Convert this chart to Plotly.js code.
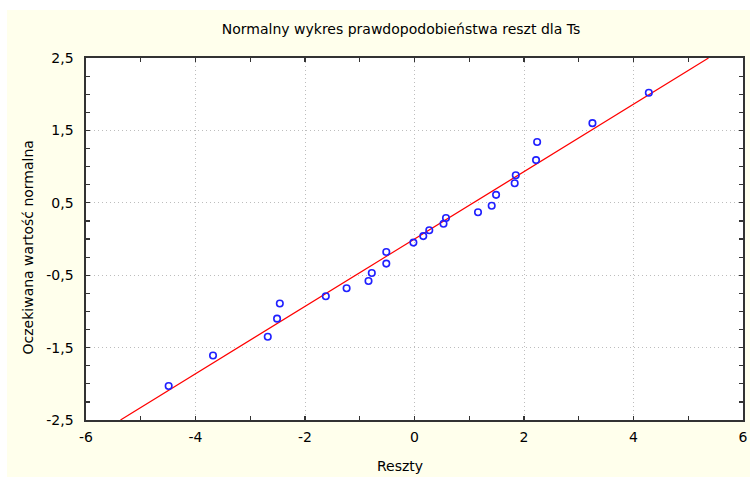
<!DOCTYPE html>
<html>
<head>
<meta charset="utf-8">
<script src="https://cdn.plot.ly/plotly-3.0.1.min.js"></script>
<style>
  html, body { margin: 0; padding: 0; background: #ffffff; width: 755px; height: 478px; overflow: hidden; }
  #chart { position: absolute; left: 7px; top: 10px; width: 743px; height: 467px; }
</style>
</head>
<body>
<div id="chart"></div>
<script>
// Residuals (x) vs expected normal values (y)
const residuals = [-4.49, -3.68, -2.68, -2.51, -2.46, -1.62, -1.24, -0.84, -0.78, -0.515, -0.515, -0.02, 0.16, 0.27, 0.53, 0.575, 1.16, 1.41, 1.49, 1.83, 1.85, 2.22, 2.24, 3.25, 4.28];
const expectedNormal = [-2.03, -1.61, -1.35, -1.10, -0.89, -0.79, -0.68, -0.58, -0.47, -0.34, -0.18, -0.05, 0.04, 0.12, 0.21, 0.29, 0.37, 0.46, 0.61, 0.77, 0.88, 1.09, 1.34, 1.60, 2.02];

// Reference line
const lineX = [-5.37, 5.37];
const lineY = [-2.5, 2.5];

// Tick labels
const xTickVals = [-6, -4, -2, 0, 2, 4, 6];
const xTickText = ['-6', '-4', '-2', '0', '2', '4', '6'];
const yTickVals = [-2.5, -1.5, -0.5, 0.5, 1.5, 2.5];
const yTickText = ['-2,5', '-1,5', '-0,5', '0,5', '1,5', '2,5'];

const titleText = 'Normalny wykres prawdopodobieństwa reszt dla Ts';
const xTitle = 'Reszty';
const yTitle = 'Oczekiwana wartość normalna';

const FONT = '"DejaVu Sans", Arial, sans-serif';

const traces = [
  {
    x: lineX, y: lineY, type: 'scatter', mode: 'lines',
    line: { color: '#ff0000', width: 1.2 }, hoverinfo: 'skip'
  },
  {
    x: residuals, y: expectedNormal, type: 'scatter', mode: 'markers',
    marker: { symbol: 'circle-open', size: 6.5, color: '#2020ff', line: { width: 1.6, color: '#2020ff' } }
  }
];

const axisCommon = {
  ticks: 'inside', ticklen: 4, tickwidth: 1.2, tickcolor: '#333333',
  showline: true, linecolor: '#333333', linewidth: 1.6, mirror: 'allticks',
  showgrid: true, gridcolor: '#bdbdbd', griddash: '1px,3px', gridwidth: 1,
  zeroline: false,
  tickfont: { family: FONT, size: 14, color: '#000000' },
  tickmode: 'array'
};

const layout = {
  width: 743, height: 467,
  margin: { l: 79, r: 7, t: 48, b: 57, pad: 0 },
  paper_bgcolor: '#FFFFEC',
  plot_bgcolor: '#ffffff',
  showlegend: false,
  hovermode: false,
  font: { family: FONT, size: 14, color: '#000000' },
  title: {
    text: titleText,
    font: { family: FONT, size: 14, color: '#000000' },
    xref: 'container', x: 0.5303, xanchor: 'center',
    yref: 'container', y: 0.9593, yanchor: 'middle'
  },
  xaxis: Object.assign({}, axisCommon, {
    range: [-6, 6], tickvals: xTickVals, ticktext: xTickText,
    ticklabelstandoff: 4,
    minor: { ticks: 'inside', dtick: 1, ticklen: 4, tickwidth: 1.2, tickcolor: '#333333', showgrid: false }
  }),
  yaxis: Object.assign({}, axisCommon, {
    range: [-2.5, 2.5], tickvals: yTickVals, ticktext: yTickText,
    ticklabelstandoff: 8,
    minor: { ticks: 'inside', dtick: 0.25, tick0: -2.5, ticklen: 4, tickwidth: 1.2, tickcolor: '#333333', showgrid: false }
  }),
  annotations: [
    {
      text: xTitle, xref: 'paper', yref: 'paper', x: 0.4785, y: -0.127,
      xanchor: 'center', yanchor: 'middle', showarrow: false,
      font: { family: FONT, size: 14, color: '#000000' }
    },
    {
      text: yTitle, xref: 'paper', yref: 'paper', x: -0.0883, y: 0.4765,
      xanchor: 'center', yanchor: 'middle', showarrow: false, textangle: -90,
      font: { family: FONT, size: 14, color: '#000000' }
    }
  ]
};

Plotly.newPlot('chart', traces, layout, { staticPlot: true, displayModeBar: false });
</script>
</body>
</html>
